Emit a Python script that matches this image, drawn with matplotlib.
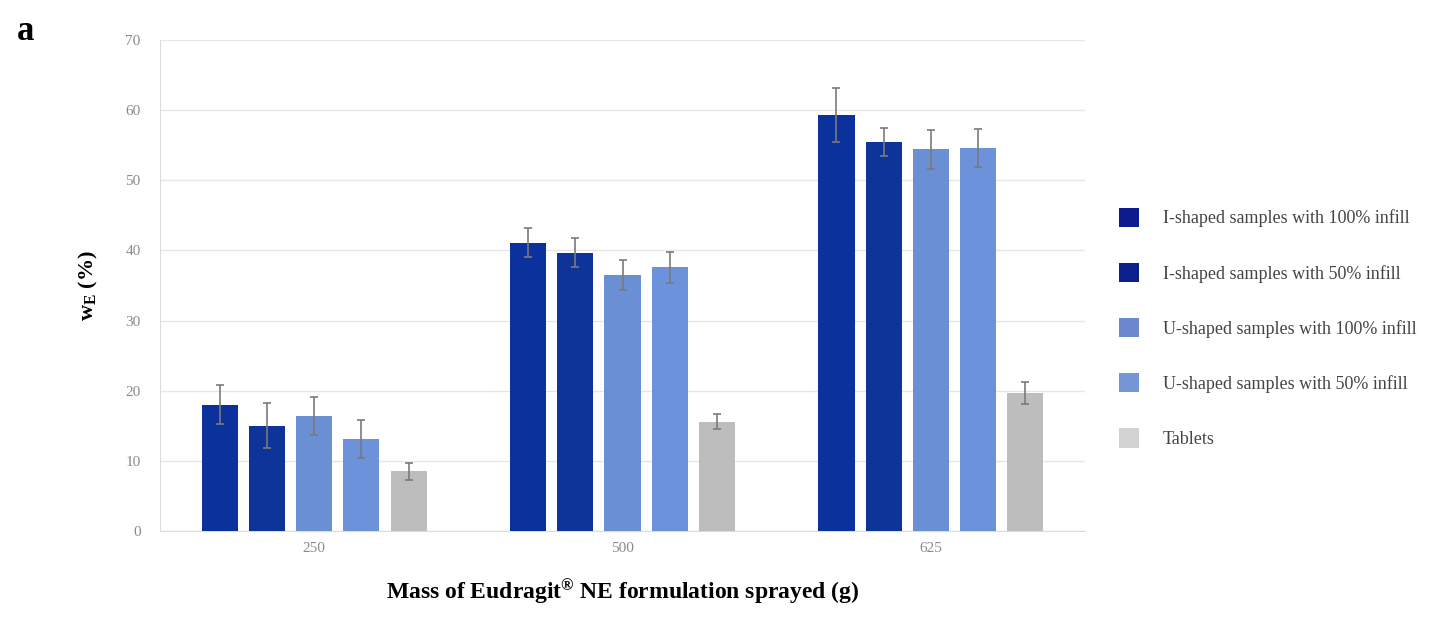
import numpy as np
import matplotlib
matplotlib.use("Agg")
import matplotlib.pyplot as plt
from matplotlib.patches import Patch

plt.rcParams['font.family'] = ['Liberation Serif', 'DejaVu Serif']
plt.rcParams['mathtext.fontset'] = 'custom'
plt.rcParams['mathtext.rm'] = 'Liberation Serif'
plt.rcParams['mathtext.bf'] = 'Liberation Serif:bold'
plt.rcParams['mathtext.it'] = 'Liberation Serif:italic'

categories = ["250", "500", "625"]
series_names = [
    "I-shaped samples with 100% infill",
    "I-shaped samples with 50% infill",
    "U-shaped samples with 100% infill",
    "U-shaped samples with 50% infill",
    "Tablets",
]
i100 = [18.0, 41.1, 59.3]
i50 = [15.0, 39.7, 55.5]
u100 = [16.4, 36.5, 54.4]
u50 = [13.1, 37.6, 54.6]
tablets = [8.5, 15.6, 19.7]

i100_err = [2.8, 2.1, 3.9]
i50_err = [3.2, 2.1, 2.0]
u100_err = [2.7, 2.2, 2.8]
u50_err = [2.7, 2.2, 2.7]
tablets_err = [1.2, 1.1, 1.6]

values = [i100, i50, u100, u50, tablets]
errors = [i100_err, i50_err, u100_err, u50_err, tablets_err]
colors = ["#0a319c", "#0e3399", "#6a8fd4", "#6b92da", "#bdbdbd"]
legend_colors = ["#0c1c8e", "#0d1f8c", "#6a87d0", "#7595d4", "#d2d2d2"]

fig = plt.figure(figsize=(14.38, 6.21), dpi=100)
ax = fig.add_axes([0.1113, 0.1449, 0.6432, 0.7907])

x = np.arange(len(categories))
width = 0.117
step = 0.153
for k, (vals, errs, c) in enumerate(zip(values, errors, colors)):
    pos = x + (k - 2) * step
    ax.bar(pos, vals, width=width, color=c, zorder=3)
    ax.errorbar(pos, vals, yerr=errs, fmt='none', ecolor="#7a7a7a",
                elinewidth=1.2, capsize=3, capthick=1.2, zorder=4)

ax.set_xlim(-0.5, 2.5)
ax.set_ylim(0, 70)
ax.set_yticks(np.arange(0, 71, 10))
ax.set_xticks(x)
ax.set_xticklabels(categories)
ax.tick_params(axis='both', length=0, labelsize=11, labelcolor="#8a8a8a")
ax.tick_params(axis='x', pad=8)
ax.tick_params(axis='y', pad=14)
ax.grid(axis='y', color="#e6e6e6", linewidth=1.0, zorder=0)
for side in ['top', 'right']:
    ax.spines[side].set_visible(False)
for side in ['left', 'bottom']:
    ax.spines[side].set_color("#dcdcdc")

ax.set_ylabel(r"$\mathbf{w}_{\mathbf{E}}$ $\mathbf{(\%)}$", fontsize=16, labelpad=18)
ax.set_xlabel(r"Mass of Eudragit$^{\mathbf{®}}$ NE formulation sprayed (g)", fontsize=17,
              fontweight='bold', labelpad=16)

handles = [Patch(facecolor=c, edgecolor='none') for c in legend_colors]
fig.legend(handles, series_names, loc='upper left', bbox_to_anchor=(0.767, 0.692),
           frameon=False, fontsize=13, labelcolor="#444444",
           handlelength=1.1, handleheight=1.3, handletextpad=1.3,
           labelspacing=1.95)

fig.text(0.012, 0.935, "a", fontsize=25, fontweight='bold')

fig.savefig("out.png", dpi=100)
